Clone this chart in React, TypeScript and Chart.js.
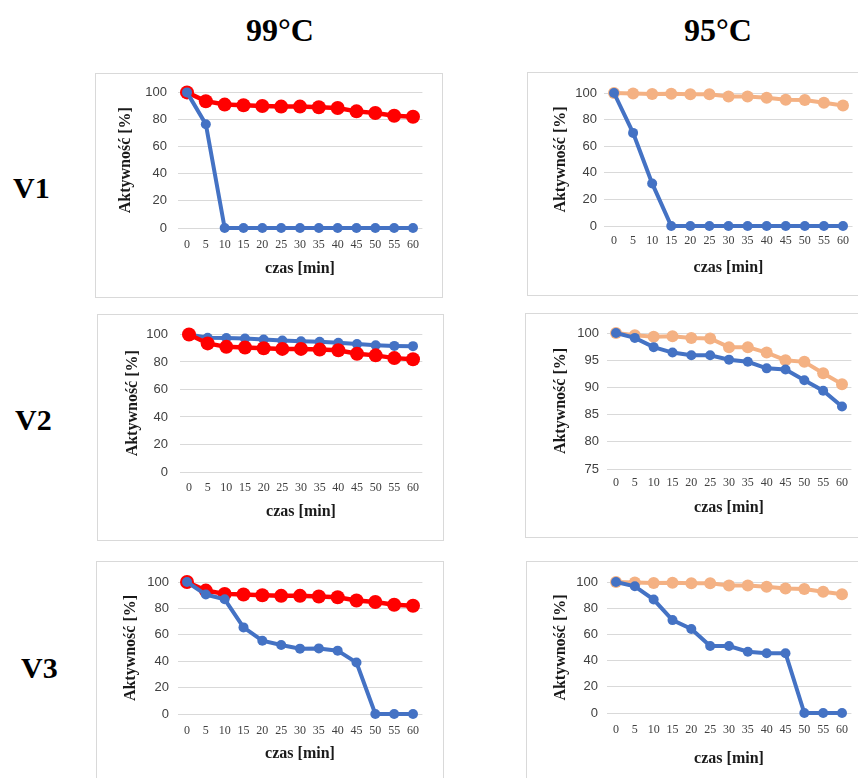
import { useEffect, useRef } from "react";
import { Chart, registerables } from "chart.js";

Chart.register(...registerables);

// Time points [min]
const minutes = ["0", "5", "10", "15", "20", "25", "30", "35", "40", "45", "50", "55", "60"];

// Control series (same at every row)
const control99 = [100, 93.5, 91, 90.5, 90, 89.5, 89.5, 89, 88.5, 86, 84.8, 82.8, 82];
const control95 = [100, 99.6, 99.3, 99.4, 99.1, 99, 97.4, 97.4, 96.4, 95, 94.7, 92.6, 90.6];

// Variant series
const v1at99 = [100, 76.5, 0, 0, 0, 0, 0, 0, 0, 0, 0, 0, 0];
const v1at95 = [100, 70, 32, 0, 0, 0, 0, 0, 0, 0, 0, 0, 0];
const v2at99 = [100, 97.6, 97.4, 97, 96.4, 95.6, 95.1, 94.7, 93.9, 93, 92.2, 91.7, 91.5];
const v2at95 = [100, 99.1, 97.4, 96.4, 95.9, 95.9, 95.1, 94.7, 93.5, 93.3, 91.3, 89.4, 86.5];
const v3at99 = [100, 90.5, 86.9, 65.6, 55.5, 52.3, 49.5, 49.7, 48, 39, 0, 0, 0];
const v3at95 = [100, 96.7, 86.6, 70.9, 64.1, 51.1, 51.1, 46.8, 45.6, 45.6, 0, 0, 0];

const columnHeaders = ["99°C", "95°C"];
const rowHeaders = ["V1", "V2", "V3"];

const BLUE = "#4472C4";
const RED = "#FF0000";
const PEACH = "#F4B183";
const GRID = "#D9D9D9";
const SERIF = "'Liberation Serif', 'Times New Roman', serif";
const SANS = "'Liberation Sans', Arial, sans-serif";

type Series = { data: number[]; color: string; radius: number; width: number };

type PanelSpec = {
  box: [number, number, number, number];
  x0: number;
  x60: number;
  yTop: number;
  yBot: number;
  yTickRight: number;
  yTitleX: number;
  xTickY: number;
  xTitleY: number;
  yMin: number;
  yMax: number;
  yStep: number;
  series: Series[];
};

const blue = (data: number[]): Series => ({ data, color: BLUE, radius: 5, width: 4 });
const red = (data: number[]): Series => ({ data, color: RED, radius: 7, width: 4.5 });
const peach = (data: number[]): Series => ({ data, color: PEACH, radius: 6, width: 4 });

const panels: PanelSpec[] = [
  {
    box: [95, 73, 442, 297], x0: 187, x60: 413, yTop: 92, yBot: 228,
    yTickRight: 167, yTitleX: 125.5, xTickY: 245, xTitleY: 269,
    yMin: 0, yMax: 100, yStep: 20, series: [blue(v1at99), red(control99)],
  },
  {
    box: [527, 72, 866, 295], x0: 614, x60: 843, yTop: 93, yBot: 226,
    yTickRight: 597, yTitleX: 561, xTickY: 241, xTitleY: 268,
    yMin: 0, yMax: 100, yStep: 20, series: [blue(v1at95), peach(control95)],
  },
  {
    box: [97, 314, 443, 540], x0: 189, x60: 413, yTop: 334, yBot: 472,
    yTickRight: 168, yTitleX: 133, xTickY: 488, xTitleY: 512,
    yMin: 0, yMax: 100, yStep: 20, series: [red(control99), blue(v2at99)],
  },
  {
    box: [525, 313, 866, 537], x0: 616, x60: 842, yTop: 333, yBot: 469,
    yTickRight: 599, yTitleX: 561, xTickY: 483, xTitleY: 508,
    yMin: 75, yMax: 100, yStep: 5, series: [blue(v2at95), peach(control95)],
  },
  {
    box: [96, 561, 443, 790], x0: 187, x60: 413, yTop: 582, yBot: 714,
    yTickRight: 169, yTitleX: 131, xTickY: 731, xTitleY: 754,
    yMin: 0, yMax: 100, yStep: 20, series: [blue(v3at99), red(control99)],
  },
  {
    box: [526, 561, 866, 790], x0: 616, x60: 842, yTop: 582, yBot: 713,
    yTickRight: 598, yTitleX: 561, xTickY: 730, xTitleY: 759,
    yMin: 0, yMax: 100, yStep: 20, series: [blue(v3at95), peach(control95)],
  },
];

const TICK_X_SIZE = 12;
const TICK_Y_SIZE = 13;
const TITLE_SIZE = 16;

function Panel({ spec }: { spec: PanelSpec }) {
  const ref = useRef<HTMLCanvasElement>(null);
  const [bx1, by1, bx2, by2] = spec.box;
  const cl = bx1 + 1;
  const ct = by1 + 1;
  const cw = bx2 - bx1 - 1;
  const ch = by2 - by1 - 1;

  useEffect(() => {
    if (!ref.current) return;
    const step = (spec.x60 - spec.x0) / 12;
    const areaL = spec.x0 - step / 2;
    const areaR = spec.x60 + step / 2;
    const titleHalf = (TITLE_SIZE * 1.2) / 2;
    const tickHalf = (TICK_X_SIZE * 1.2) / 2;

    const chart = new Chart(ref.current, {
      type: "line",
      data: {
        labels: minutes,
        datasets: spec.series.map((s) => ({
          data: s.data,
          borderColor: s.color,
          backgroundColor: s.color,
          pointBackgroundColor: s.color,
          pointBorderColor: s.color,
          pointRadius: s.radius,
          pointBorderWidth: 0,
          borderWidth: s.width,
          tension: 0,
          clip: false as any,
        })),
      },
      options: {
        animation: false,
        responsive: false,
        devicePixelRatio: 1,
        layout: {
          padding: { left: 0, top: spec.yTop - ct, right: cl + cw - areaR, bottom: 0 },
        },
        plugins: { legend: { display: false }, tooltip: { enabled: false } },
        scales: {
          x: {
            offset: true,
            grid: { display: false, drawTicks: false },
            border: { display: false },
            ticks: {
              color: "#404040",
              font: { family: SERIF, size: TICK_X_SIZE },
              padding: spec.xTickY - spec.yBot - tickHalf,
              maxRotation: 0,
              autoSkip: false,
            },
            title: {
              display: true,
              text: "czas [min]",
              color: "#1a1a1a",
              font: { family: SERIF, size: TITLE_SIZE, weight: "bold" },
              padding: { top: 0, bottom: ct + ch - spec.xTitleY - titleHalf },
            },
            afterFit: (s: any) => {
              s.height = ct + ch - spec.yBot;
            },
          },
          y: {
            min: spec.yMin,
            max: spec.yMax,
            grid: { color: GRID, lineWidth: 1, drawTicks: false },
            border: { display: false },
            ticks: {
              stepSize: spec.yStep,
              color: "#404040",
              font: { family: SANS, size: TICK_Y_SIZE },
              padding: areaL - spec.yTickRight,
            },
            title: {
              display: true,
              text: "Aktywność [%]",
              color: "#1a1a1a",
              font: { family: SERIF, size: TITLE_SIZE, weight: "bold" },
              padding: { top: spec.yTitleX - cl - titleHalf, bottom: 0 },
            },
            afterFit: (s: any) => {
              s.width = areaL - cl;
            },
          },
        },
      } as any,
    });
    return () => chart.destroy();
  }, [spec]);

  return (
    <div
      style={{
        position: "absolute",
        left: bx1,
        top: by1,
        width: bx2 - bx1 + 1,
        height: by2 - by1 + 1,
        boxSizing: "border-box",
        border: `1px solid ${GRID}`,
        background: "#fff",
      }}
    >
      <canvas ref={ref} width={cw} height={ch} style={{ display: "block", width: cw, height: ch }} />
    </div>
  );
}

const headerCenters = [280, 718];
const rowLabelPos: [number, number][] = [
  [13, 188.5],
  [15, 420],
  [21, 668],
];

export default function App() {
  return (
    <div
      style={{
        position: "absolute",
        left: 0,
        top: 0,
        width: 858,
        height: 778,
        overflow: "hidden",
        background: "#fff",
      }}
    >
      {columnHeaders.map((t, i) => (
        <div
          key={t}
          style={{
            position: "absolute",
            left: headerCenters[i] - 100,
            top: 14,
            width: 200,
            textAlign: "center",
            fontFamily: SERIF,
            fontWeight: "bold",
            fontSize: 32,
            lineHeight: "32px",
            color: "#000",
          }}
        >
          {t}
        </div>
      ))}
      {rowHeaders.map((t, i) => (
        <div
          key={t}
          style={{
            position: "absolute",
            left: rowLabelPos[i][0],
            top: rowLabelPos[i][1] - 15.2,
            fontFamily: SERIF,
            fontWeight: "bold",
            fontSize: 30,
            lineHeight: "30px",
            color: "#000",
            whiteSpace: "nowrap",
          }}
        >
          {t}
        </div>
      ))}
      {panels.map((p, i) => (
        <Panel key={i} spec={p} />
      ))}
    </div>
  );
}
